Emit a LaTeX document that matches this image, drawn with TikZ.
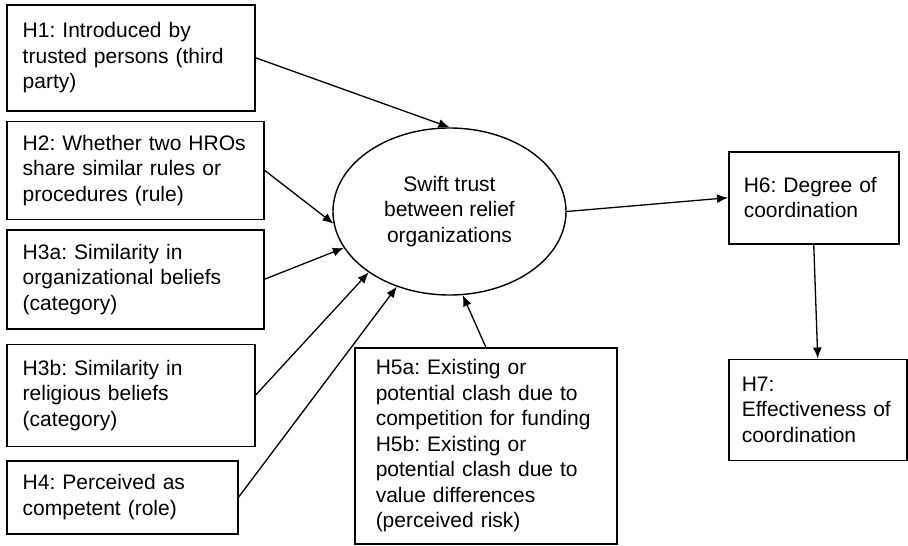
\documentclass[tikz,border=0pt]{standalone}
\usepackage{fontspec}
\setmainfont{Liberation Sans}
\usetikzlibrary{positioning}
\usetikzlibrary{shapes.geometric}
\usetikzlibrary{arrows.meta}
\frenchspacing

\begin{document}
\begin{tikzpicture}[x=1pt,y=-1pt]
    \tikzset{hyp/.style={draw,line width=1.5pt,anchor=north west,align=left,inner xsep=0pt,inner ysep=0pt,font=\fontsize{21}{25.5}\selectfont}}
    \tikzset{belief/.style={shape=ellipse,draw,line width=1.4pt,inner sep=0pt,minimum width=233pt,minimum height=167pt,align=center,font=\fontsize{21}{25.5}\selectfont}}
    \tikzset{edge/.style = {-{Latex[length=11pt,width=9pt]},line width=1.3pt}}
    \useasboundingbox (0,0) rectangle (908,546);

    \node[hyp,text width=216pt,minimum width=248pt,minimum height=106pt] (h1) at (6,4) {H1: Introduced by\\trusted persons (third\\party)};
    \node[hyp,text width=225pt,minimum width=257pt,minimum height=98pt] (h2) [below=9pt of h1.south west,anchor=north west] {H2: Whether two HROs\\share similar rules or\\procedures (rule)};
    \node[hyp,text width=225pt,minimum width=257pt,minimum height=99pt] (h3a) [below=9pt of h2.south west,anchor=north west] {H3a: Similarity in\\organizational beliefs\\(category)};
    \node[hyp,text width=216pt,minimum width=248pt,minimum height=102pt] (h3b) [below=14pt of h3a.south west,anchor=north west] {H3b: Similarity in\\religious beliefs\\(category)};
    \node[hyp,text width=199pt,minimum width=231pt,minimum height=73pt] (h4) [below=13pt of h3b.south west,anchor=north west] {H4: Perceived as\\competent (role)};
    \node[belief] (st) at (449.5,211.5) {Swift trust\\between relief\\organizations};
    \node[hyp,text width=220pt,minimum width=262pt,minimum height=196pt] (h5) at (354,347) {H5a: Existing or\\potential clash due to\\competition for funding\\H5b: Existing or\\potential clash due to\\value differences\\(perceived risk)};
    \node[hyp,text width=140pt,minimum width=170pt,minimum height=92pt] (h6) at (728,151) {H6: Degree of\\coordination};
    \node[hyp,text width=152pt,minimum width=178pt,minimum height=101pt] (h7) [below=114pt of h6.south west,anchor=north west] {H7:\\Effectiveness of\\coordination};

    \draw[edge] (h1.east) -- (st.north);
    \draw[edge] (h2.east) -- (st.186);
    \draw[edge] (h3a.east) -- (st.199);
    \draw[edge] (h3b.east) -- (st.217);
    \draw[edge] (h4.east) -- (st.235);
    \draw[edge] (h5.north) -- (st.279);
    \draw[edge] (st.east) -- (h6.west);
    \draw[edge] (h6.south) -- (h7.north);
\end{tikzpicture}
\end{document}
